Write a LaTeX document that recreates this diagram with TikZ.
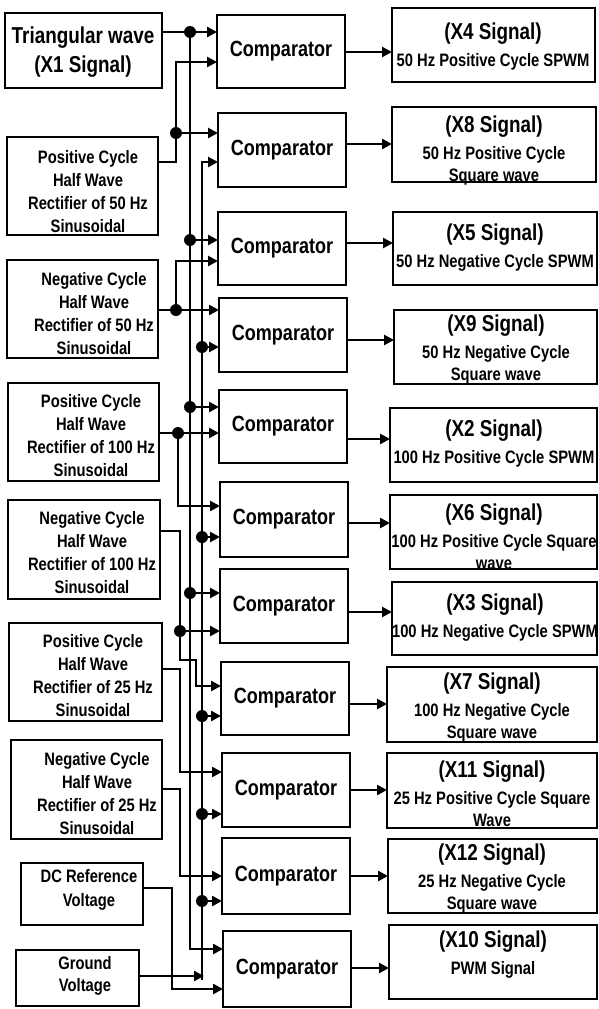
\documentclass[tikz,border=0pt]{standalone}
\usepackage{fontspec}
\setmainfont{Liberation Sans}[FakeStretch=0.82]
\usetikzlibrary{arrows.meta}
\tikzset{
  box/.style={draw, line width=2.9pt, inner sep=0pt, outer sep=0pt},
  comp/.style={box, font=\bfseries\fontsize{22}{26}\selectfont},
  lt/.style={align=center, inner sep=0pt, font=\bfseries\fontsize{18}{23}\selectfont},
  bigt/.style={align=center, inner sep=0pt, font=\bfseries\fontsize{23}{29}\selectfont},
  ot/.style={align=center, inner sep=0pt, font=\bfseries\fontsize{18}{22}\selectfont},
  wire/.style={line width=2.7pt},
  arr/.style={wire, -{Triangle[length=10pt,width=10pt]}},
  dot/.style={fill=black}
}
\newcommand{\bx}[7][box]{\node[#1, minimum width={(#5)-(#3)}, minimum height={(#6)-(#4)}] (#2) at ({((#3)+(#5))/2},{((#4)+(#6))/2}) {#7};}
\newcommand{\ttl}[1]{{\fontsize{23}{27}\selectfont #1}\\[5pt]}
\begin{document}
\begin{tikzpicture}[x=1pt,y=-1pt]
\useasboundingbox (0,0) rectangle (598,1009);
% ---------------- left source boxes
\bx{tri}{5}{13}{162}{88}{}
\bx{p50}{7}{137}{158}{235}{}
\bx{n50}{7}{260}{158}{358}{}
\bx{p100}{8}{383}{159}{481}{}
\bx{n100}{8}{500}{160}{599}{}
\bx{p25}{9}{623}{162}{721}{}
\bx{n25}{11}{740}{162}{839}{}
\bx{dc}{21}{863}{143}{925}{}
\bx{gnd}{16}{950}{139}{1006}{}
\node[bigt] (t-tri) at (83,52) {Triangular wave\\(X1 Signal)};
\node[lt] (t-p50) at (88,192) {Positive Cycle\\Half Wave\\Rectifier of 50 Hz\\Sinusoidal};
\node[lt] (t-n50) at (94,314) {Negative Cycle\\Half Wave\\Rectifier of 50 Hz\\Sinusoidal};
\node[lt] (t-p100) at (91,436) {Positive Cycle\\Half Wave\\Rectifier of 100 Hz\\Sinusoidal};
\node[lt] (t-n100) at (92,553) {Negative Cycle\\Half Wave\\Rectifier of 100 Hz\\Sinusoidal};
\node[lt] (t-p25) at (93,676) {Positive Cycle\\Half Wave\\Rectifier of 25 Hz\\Sinusoidal};
\node[lt] (t-n25) at (97,794) {Negative Cycle\\Half Wave\\Rectifier of 25 Hz\\Sinusoidal};
\node[lt, font=\bfseries\fontsize{18}{24}\selectfont] (t-dc) at (89,890) {DC Reference\\Voltage};
\node[lt, font=\bfseries\fontsize{18}{22}\selectfont] (t-gnd) at (85,976) {Ground\\Voltage};
% ---------------- comparators
\bx[comp]{c1}{217}{15}{345}{88}{Comparator}
\bx[comp]{c2}{218}{113}{346}{187}{Comparator}
\bx[comp]{c3}{218}{212}{346}{285}{Comparator}
\bx[comp]{c4}{219}{298}{347}{372}{Comparator}
\bx[comp]{c5}{219}{390}{347}{463}{Comparator}
\bx[comp]{c6}{220}{482}{348}{557}{Comparator}
\bx[comp]{c7}{220}{569}{348}{643}{Comparator}
\bx[comp]{c8}{221}{662}{349}{735}{Comparator}
\bx[comp]{c9}{222}{753}{350}{827}{Comparator}
\bx[comp]{c10}{222}{838}{350}{914}{Comparator}
\bx[comp]{c11}{223}{931}{351}{1007}{Comparator}
% ---------------- output boxes
\bx{o1}{392}{8}{595}{82}{}
\bx{o2}{392}{107}{596}{182}{}
\bx{o3}{393}{212}{597}{285}{}
\bx{o4}{394}{310}{597}{384}{}
\bx{o5}{390}{408}{597}{482}{}
\bx{o6}{390}{495}{597}{569}{}
\bx{o7}{392}{582}{597}{655}{}
\bx{o8}{387}{667}{597}{742}{}
\bx{o9}{387}{753}{597}{828}{}
\bx{o10}{388}{839}{597}{913}{}
\bx{o11}{389}{925}{597}{999}{}
\node[ot] (t-o1) at (493,47) {\ttl{(X4 Signal)}50 Hz Positive Cycle SPWM};
\node[ot] (t-o2) at (494,151) {\ttl{(X8 Signal)}50 Hz Positive Cycle\\Square wave};
\node[ot] (t-o3) at (495,248) {\ttl{(X5 Signal)}50 Hz Negative Cycle SPWM};
\node[ot] (t-o4) at (496,350) {\ttl{(X9 Signal)}50 Hz Negative Cycle\\Square wave};
\node[ot] (t-o5) at (494,444) {\ttl{(X2 Signal)}100 Hz Positive Cycle SPWM};
\node[ot] (t-o6) at (494,537) {\ttl{(X6 Signal)}100 Hz Positive Cycle Square\\wave};
\node[ot] (t-o7) at (495,618) {\ttl{(X3 Signal)}100 Hz Negative Cycle SPWM};
\node[ot] (t-o8) at (492,708) {\ttl{(X7 Signal)}100 Hz Negative Cycle\\Square wave};
\node[ot] (t-o9) at (492,794) {\ttl{(X11 Signal)}25 Hz Positive Cycle Square\\Wave};
\node[ot] (t-o10) at (492,879) {\ttl{(X12 Signal)}25 Hz Negative Cycle\\Square wave};
\node[ot] (t-o11) at (493,955) {\ttl{(X10 Signal)}PWM Signal};
% ---------------- comparator -> output
\draw[arr] (c1.east |- 0,52) -- (o1.west |- 0,52);
\draw[arr] (c2.east |- 0,144) -- (o2.west |- 0,144);
\draw[arr] (c3.east |- 0,243) -- (o3.west |- 0,243);
\draw[arr] (c4.east |- 0,340) -- (o4.west |- 0,340);
\draw[arr] (c5.east |- 0,439) -- (o5.west |- 0,439);
\draw[arr] (c6.east |- 0,523) -- (o6.west |- 0,523);
\draw[arr] (c7.east |- 0,612) -- (o7.west |- 0,612);
\draw[arr] (c8.east |- 0,704) -- (o8.west |- 0,704);
\draw[arr] (c9.east |- 0,790) -- (o9.west |- 0,790);
\draw[arr] (c10.east |- 0,876) -- (o10.west |- 0,876);
\draw[arr] (c11.east |- 0,968) -- (o11.west |- 0,968);
% ---------------- junction points
\coordinate (jT0) at (190,32);
\coordinate (jT3) at (190,240);
\coordinate (jT5) at (190,407);
\coordinate (jT7) at (190,593);
\coordinate (jT11) at (190,949);
\coordinate (jP50) at (176,133);
\coordinate (jN50) at (176,310);
\coordinate (jP100) at (178,433);
\coordinate (jN100) at (180,631);
\coordinate (jG4) at (202,347);
\coordinate (jG6) at (202,537);
\coordinate (jG8) at (202,716);
\coordinate (jG9) at (202,814);
\coordinate (jG10) at (202,901);
\coordinate (jGb) at (202,976);
% ---------------- triangular wave bus
\draw[arr] (tri.east |- jT0) -- (c1.west |- jT0);
\draw[arr] (jT0) -- (jT11) -- (c11.west |- jT11);
\draw[arr] (jT3) -- (c3.west |- jT3);
\draw[arr] (jT5) -- (c5.west |- jT5);
\draw[arr] (jT7) -- (c7.west |- jT7);
% ---------------- 50 Hz positive
\draw[arr] (p50.east |- 0,162) -- (176,162) -- (176,62) -- (c1.west |- 0,62);
\draw[arr] (jP50) -- (c2.west |- jP50);
% ---------------- 50 Hz negative
\draw[arr] (n50.east |- jN50) -- (c4.west |- jN50);
\draw[arr] (jN50) -- (176,261) -- (c3.west |- 0,261);
% ---------------- 100 Hz positive
\draw[arr] (p100.east |- jP100) -- (c5.west |- jP100);
\draw[arr] (jP100) -- (178,506) -- (c6.west |- 0,506);
% ---------------- 100 Hz negative
\draw[arr] (n100.east |- 0,531) -- (180,531) -- (180,660) -- (196,660) -- (196,686) -- (c8.west |- 0,686);
\draw[arr] (jN100) -- (c7.west |- jN100);
% ---------------- 25 Hz
\draw[arr] (p25.east |- 0,669) -- (180,669) -- (180,772) -- (c9.west |- 0,772);
\draw[arr] (n25.east |- 0,789) -- (180,789) -- (180,876) -- (c10.west |- 0,876);
% ---------------- DC reference
\draw[arr] (dc.east |- 0,888) -- (172,888) -- (172,989) -- (c11.west |- 0,989);
% ---------------- ground bus
\draw[arr] (gnd.east |- jGb) -- (204,976);
\draw[arr] (202,980) -- (202,162) -- (c2.west |- 0,162);
\draw[arr] (jG4) -- (c4.west |- jG4);
\draw[arr] (jG6) -- (c6.west |- jG6);
\draw[arr] (jG8) -- (c8.west |- jG8);
\draw[arr] (jG9) -- (c9.west |- jG9);
\draw[arr] (jG10) -- (c10.west |- jG10);
% ---------------- dots
\foreach \j in {jT0,jT3,jT5,jT7,jP50,jN50,jP100,jN100,jG4,jG6,jG8,jG9,jG10}
  \fill[dot] (\j) circle (6pt);
\end{tikzpicture}
\end{document}
